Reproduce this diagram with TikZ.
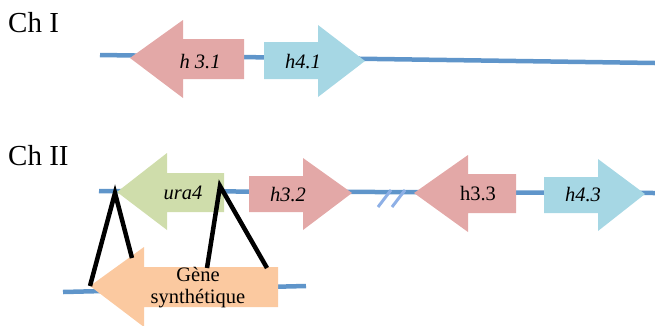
\documentclass[tikz,border=0pt]{standalone}
\usepackage{fontspec}
\setmainfont{Liberation Serif}
\definecolor{pinkg}{HTML}{E3A8A7}
\definecolor{blueg}{HTML}{A6D7E4}
\definecolor{greeng}{HTML}{CFDDAB}
\definecolor{orangeg}{HTML}{FBC9A0}
\definecolor{chrom}{HTML}{5F95CA}
\definecolor{breakc}{HTML}{8EB0E6}
\begin{document}
\begin{tikzpicture}[x=1pt,y=-1pt,
  chromline/.style={draw=chrom,line width=4.5pt},
  glabel/.style={font=\fontsize{20.5}{22}\selectfont\itshape,inner sep=0pt},
  glabelup/.style={font=\fontsize{20.5}{22}\selectfont,inner sep=0pt},
  chlabel/.style={font=\fontsize{29}{31}\selectfont,anchor=north west,inner sep=0pt},
  cross/.style={draw=black,line width=4.5pt}]
\useasboundingbox (0,0) rectangle (655,325);

% chromosome labels
\node[chlabel] (chI) at (8,12) {Ch I};
\node[chlabel] (chII) at (8,145) {Ch II};

% Ch I line
\coordinate (l1a) at (100,55);
\coordinate (l1b) at (655,63);
\draw[chromline] (l1a) -- (l1b);

% h3.1 (left)
\fill[pinkg] (130,58) -- (183,20) -- (183,39) -- (244,39) -- (244,79) -- (183,79) -- (183,98) -- cycle;
\node[glabel] (h31) at (200,62) {h 3.1};
% h4.1 (right)
\fill[blueg] (264,42) -- (318,42) -- (318,25) -- (365,61) -- (318,97) -- (318,79) -- (264,79) -- cycle;
\node[glabel] (h41) at (303,62) {h4.1};

% Ch II line
\coordinate (l2a) at (99,191);
\coordinate (l2b) at (655,193);
\draw[chromline] (l2a) -- (l2b);

% break marks
\draw[breakc,line width=3pt] (378,207) -- (391,190);
\draw[breakc,line width=3pt] (392,207) -- (405,190);

% ura4 (left)
\fill[greeng] (117,192) -- (167,153) -- (167,173) -- (224,173) -- (224,212) -- (167,212) -- (167,230) -- cycle;
\node[glabel] (ura4) at (183,193) {ura4};
% h3.2 (right)
\fill[pinkg] (249,176) -- (303,176) -- (303,158) -- (352,193) -- (303,230) -- (303,212) -- (249,212) -- cycle;
\node[glabel] (h32) at (288,195) {h3.2};
% h3.3 (left)
\fill[pinkg] (414,193) -- (468,155) -- (468,174) -- (516,174) -- (516,213) -- (468,213) -- (468,232) -- cycle;
\node[glabelup] (h33) at (478,194) {h3.3};
% h4.3 (right)
\fill[blueg] (544,177) -- (598,177) -- (598,159) -- (645,194) -- (598,231) -- (598,213) -- (544,213) -- cycle;
\node[glabel] (h43) at (583,195) {h4.3};

% bottom line
\coordinate (l3a) at (63,292);
\coordinate (l3b) at (306,286);
\draw[chromline] (l3a) -- (l3b);

% synthetic gene (left)
\fill[orangeg] (90,286) -- (144,247) -- (144,267) -- (278,267) -- (278,307) -- (144,307) -- (144,327) -- cycle;
\node[glabelup,align=center] (syn) at (198,288) {Gène\\synthétique};

% crossover lines
\coordinate (c1) at (115,193);
\coordinate (c1a) at (90,286);
\coordinate (c1b) at (132,258);
\coordinate (c2) at (220,186);
\coordinate (c2a) at (207,268);
\coordinate (c2b) at (267,268);
\draw[cross,line join=miter] (c1a) -- (c1) -- (c1b);
\draw[cross,line join=miter] (c2a) -- (c2) -- (c2b);
\end{tikzpicture}
\end{document}
